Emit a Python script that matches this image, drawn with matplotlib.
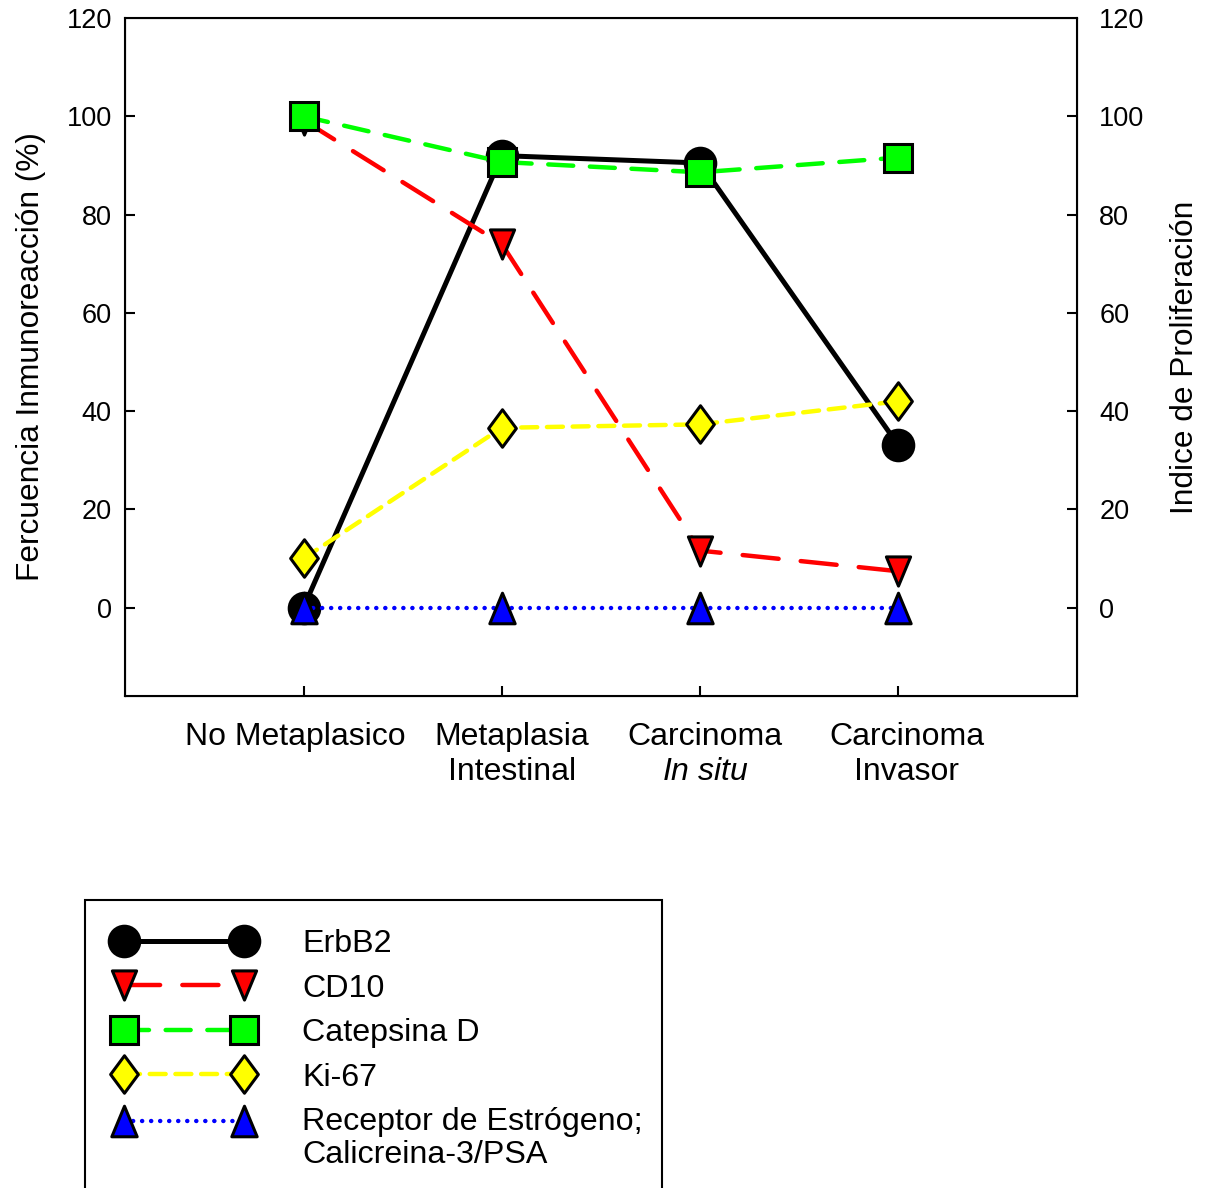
import matplotlib
matplotlib.use("Agg")
import matplotlib.pyplot as plt
from matplotlib.path import Path
from matplotlib.legend_handler import HandlerLine2D
from matplotlib.transforms import ScaledTranslation
from matplotlib.patches import Rectangle

plt.rcParams['font.family'] = ['Liberation Sans', 'DejaVu Sans']
plt.rcParams['mathtext.fontset'] = 'custom'
plt.rcParams['mathtext.rm'] = 'Liberation Sans'
plt.rcParams['mathtext.it'] = 'Liberation Sans:italic'
plt.rcParams['lines.scale_dashes'] = False

categories = ["No Metaplasico", "Metaplasia\nIntestinal", "Carcinoma\n$\\it{In\\ situ}$", "Carcinoma\nInvasor"]
erbb2 = [0, 92, 90.5, 33]
cd10 = [99.2, 74, 11.6, 7.4]
catepsina = [100, 90.7, 88.6, 91.6]
ki67 = [10, 36.6, 37.3, 42]
receptor = [0, 0, 0, 0]
y_ticks = [0, 20, 40, 60, 80, 100, 120]

tri_down = Path([(0, -1), (-0.83, 1), (0.83, 1), (0, -1)], closed=True)
tri_up = Path([(0, 1), (-0.83, -1), (0.83, -1), (0, 1)], closed=True)
thin_diamond = Path([(0, 1), (0.74, 0), (0, -1), (-0.74, 0), (0, 1)], closed=True)


class ShiftedHandler(HandlerLine2D):
    def __init__(self, dy=0, **kw):
        super().__init__(**kw)
        self.dy = dy

    def create_artists(self, legend, orig_handle, xdescent, ydescent, width, height, fontsize, trans):
        arts = super().create_artists(legend, orig_handle, xdescent, ydescent, width, height, fontsize, trans)
        for a in arts:
            a.set_ydata([y + self.dy for y in a.get_ydata()])
        return arts


fig = plt.figure(figsize=(12.09, 11.88), dpi=100)
ax = fig.add_axes([0.1034, 0.4141, 0.7874, 0.5707])

x = list(range(len(categories)))
ew = 2.2
series = [
    ("ErbB2", erbb2, dict(color='black', lw=3.6, ls='-', marker='o', ms=22, mfc='black')),
    ("CD10", cd10, dict(color='#ff0000', lw=3.2, dashes=(26, 16), marker=tri_down, ms=21, mfc='#ff0000')),
    ("Catepsina D", catepsina, dict(color='#00ff00', lw=3.2, dashes=(18, 12), marker='s', ms=20, mfc='#00ff00')),
    ("Ki-67", ki67, dict(color='#ffff00', lw=3.2, dashes=(11.5, 7), marker=thin_diamond, ms=27, mfc='#ffff00')),
    ("Receptor de Estrógeno;\nCalicreina-3/PSA", receptor, dict(color='#0000ff', lw=3.2, dashes=(0.1, 6.4), marker=tri_up, ms=22, mfc='#0000ff')),
]
handles = []
for label, vals, kw in series:
    ln, = ax.plot(x, vals, label=label, mec='black', mew=ew, solid_capstyle='round',
                  dash_capstyle='round', clip_on=False, **kw)
    handles.append(ln)

ax.set_xlim(-0.9, 3.9)
ax.set_ylim(-18, 120)
ax.set_yticks(y_ticks)
ax.set_xticks(x)
ax.set_xticklabels(categories, fontsize=23, linespacing=1.22)
ax.tick_params(axis='x', direction='in', length=7, width=1.5, pad=19)
ax.tick_params(axis='y', direction='in', length=7, width=1.5, labelsize=19.5, pad=9.5)
for s in ax.spines.values():
    s.set_linewidth(1.5)
ax.set_ylabel("Fercuencia Inmunoreacción (%)", fontsize=22.8, labelpad=15)

label_dx = [-8, 10, 5, 8]
for lab, dx in zip(ax.get_xticklabels(), label_dx):
    lab.set_transform(lab.get_transform() + ScaledTranslation(dx / 100, 0, fig.dpi_scale_trans))

ax2 = ax.twinx()
ax2.set_ylim(-18, 120)
ax2.set_yticks(y_ticks)
ax2.tick_params(axis='y', direction='in', length=7, width=1.5, labelsize=19.5, pad=16)
ax2.set_ylabel("Indice de Proliferación", fontsize=22.8, labelpad=18)
for t in ax.yaxis.get_major_ticks()[-1:] + ax2.yaxis.get_major_ticks()[-1:]:
    t.tick1line.set_visible(False)
    t.tick2line.set_visible(False)

leg = fig.legend(handles=handles, loc='upper left', bbox_to_anchor=(0.0703, 0.2424),
                 bbox_transform=fig.transFigure, borderaxespad=0, numpoints=2,
                 fontsize=23.2, handlelength=4.33, handletextpad=1.52, labelspacing=0.45,
                 borderpad=0.9, frameon=False,
                 handler_map={handles[-1]: ShiftedHandler(dy=13)})
for t in leg.get_texts():
    t.set_linespacing(1.12)

# legend frame (extends past the bottom edge of the figure as in the original)
fig.patches.append(Rectangle((0.0703, -0.05), 0.4773, 0.2924, transform=fig.transFigure,
                             facecolor='none', edgecolor='black', linewidth=1.5, zorder=0))

fig.savefig("out.png", dpi=100)
